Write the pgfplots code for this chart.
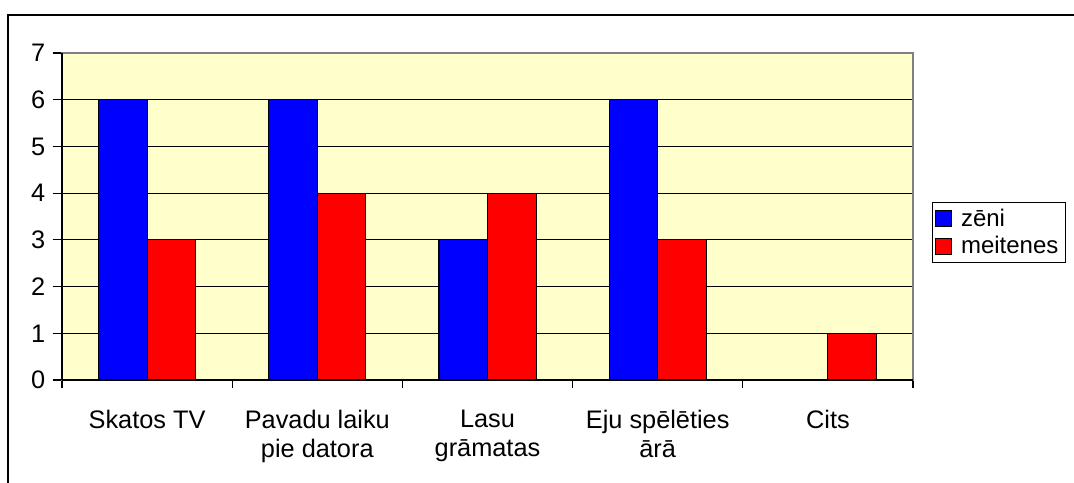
\documentclass[border=0pt]{standalone}
\usepackage{pgfplots}
\pgfplotsset{compat=1.18}
\usepackage{fontspec}
\setmainfont{Liberation Sans}
\definecolor{plotbg}{RGB}{255,255,204}
\definecolor{zblue}{RGB}{0,0,255}
\definecolor{mred}{RGB}{255,0,0}
\begin{document}
\begin{tikzpicture}
\path[use as bounding box] (0,0) rectangle (805.5pt,361.5pt);
\draw[line width=1.1pt] (6pt,-2pt) -- (6pt,350.25pt) -- (808pt,350.25pt);
\begin{axis}[
  at={(46.5pt,76.5pt)}, anchor=south west,
  scale only axis,
  width=638.25pt, height=245.25pt,
  xmin=-0.5, xmax=4.5, ymin=0, ymax=7,
  ybar=0pt, bar width=36.4pt,
  axis background/.style={fill=plotbg},
  axis line style={draw=gray, line width=1pt},
  axis x line*=box, axis y line*=box,
  ytick={0,...,7},
  ymajorgrids, major grid style={black, line width=0.8pt},
  xtick={0,...,4},
  xticklabels={Skatos TV, {Pavadu laiku\\pie datora}, {Lasu\\grāmatas}, {Eju spēlēties\\ārā}, Cits},
  xticklabel style={align=center, font=\fontsize{19}{22}\selectfont, yshift=-12pt},
  yticklabel style={font=\fontsize{19}{22}\selectfont, xshift=-2pt},
  /pgf/number format/assume math mode=true,
  major x tick style={draw=none},
  minor xtick={-0.5,0.5,...,4.5},
  minor x tick style={black, line width=0.8pt},
  minor tick length=6pt,
  major tick length=7pt,
  tick align=outside,
  ytick style={black, line width=0.8pt},
  xtick pos=bottom, ytick pos=left,
  legend style={at={(1.0223,0.545)}, anchor=north west, draw=black, line width=0.6pt, font=\fontsize{18}{20}\selectfont, row sep=2pt, inner xsep=2pt, inner ysep=3pt,
    nodes={inner xsep=3pt}},
  legend cell align=left,
  legend image code/.code={\draw[#1, draw=black, line width=0.5pt] (2pt,-6pt) rectangle (14pt,6pt);},
  clip=false,
]
\addplot[fill=zblue, draw=black, line width=0.8pt] coordinates {(0,6) (1,6) (2,3) (3,6) (4,0)};
\addplot[fill=mred, draw=black, line width=0.8pt] coordinates {(0,3) (1,4) (2,4) (3,3) (4,1)};
\legend{\hspace{4pt}zēni, \hspace{4pt}meitenes}
\draw[black, line width=1pt] (rel axis cs:0,0) -- (rel axis cs:0,1);
\draw[black, line width=1pt] (rel axis cs:0,0) -- (rel axis cs:1,0);
\end{axis}
\end{tikzpicture}
\end{document}
